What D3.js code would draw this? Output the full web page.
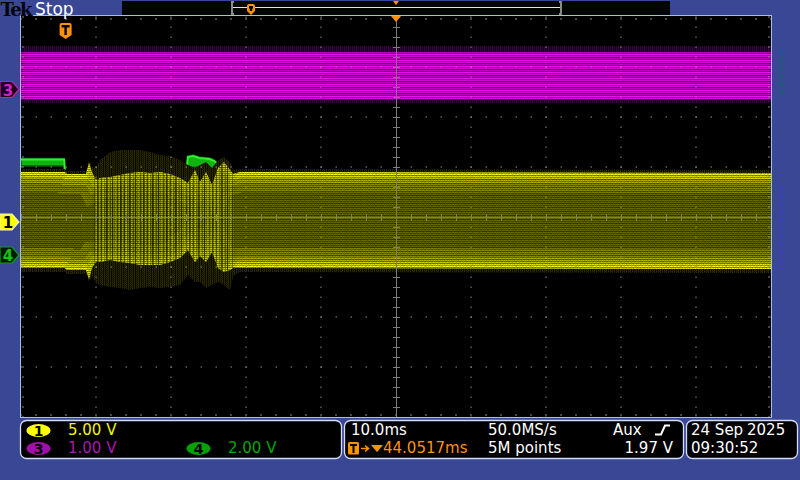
<!DOCTYPE html>
<html><head><meta charset="utf-8">
<script src="https://cdn.jsdelivr.net/npm/d3@7"></script>
<style>html,body{margin:0;padding:0;background:#3a4794;overflow:hidden}svg{display:block}</style>
</head><body>
<script>
// ---------------- DATA ----------------
const timePerDiv = 10;            // ms / div
const horizPosition = 44.0517;    // ms at screen centre (trigger at 0 ms)
const ch1VoltsPerDiv = 5, ch3VoltsPerDiv = 1, ch4VoltsPerDiv = 2;
const ch1Offset = -0.1, ch3Offset = 2.55, ch4Offset = -0.76; // divisions

// Channel 1 (yellow) envelope, ms / V
const ch1Time     = [-5.95, -0.1, 0.18, 2.72, 3.12, 3.52, 4.05, 4.59, 5.92, 7.25, 8.59, 9.92, 11.25, 12.59, 13.92, 15.25, 16.32, 17.25, 17.92, 18.72, 19.52, 20.32, 21.12, 21.92, 22.32, 23.25, 94.05];
const ch1Max      = [5.0, 5.0, 4.8, 4.8, 5.9, 5.0, 4.2, 4.4, 4.5, 4.7, 4.9, 5.0, 4.9, 5.0, 4.8, 4.4, 3.9, 5.2, 4.0, 5.0, 3.7, 5.4, 6.0, 5.2, 4.8, 5.0, 4.9];
const ch1Min      = [-4.6, -4.6, -4.8, -4.8, -5.7, -4.6, -4.0, -4.0, -3.8, -4.0, -4.1, -4.3, -4.3, -4.3, -4.0, -3.6, -2.8, -4.0, -3.4, -4.0, -3.0, -4.6, -5.0, -4.8, -4.6, -4.6, -4.7];
const ch1PeakMax  = [5.3, 5.3, 5.1, 5.1, 6.2, 5.5, 5.4, 6.2, 7.0, 7.2, 7.2, 7.2, 7.0, 6.7, 6.6, 6.2, 5.7, 5.4, 5.7, 6.0, 5.4, 6.2, 6.5, 6.0, 5.2, 5.3, 5.2];
const ch1PeakMin  = [-5.0, -5.0, -5.2, -5.2, -6.0, -5.4, -6.1, -6.3, -6.5, -6.6, -6.8, -6.6, -6.5, -6.6, -6.5, -6.3, -5.3, -6.0, -6.0, -6.6, -6.3, -6.0, -6.3, -6.8, -5.4, -5.0, -5.1];
const ch1BurstStart = 3.0, ch1BurstEnd = 23.0; // ms, disturbed section

// Channel 3 (magenta) envelope
const ch3Time    = [-5.95, 94.05];
const ch3Max     = [0.75, 0.75];
const ch3Min     = [-0.21, -0.21];
const ch3PeakMax = [0.87, 0.87];
const ch3PeakMin = [-0.27, -0.27];

// Channel 4 (green) envelope
const ch4Time = [-5.95, -0.2, 0.0, 16.0, 16.3, 17.0, 17.8, 18.5, 19.2, 19.8, 20.2, 20.5, 94.05];
const ch4Max  = [3.86, 3.86, 3.0, 3.0, 3.96, 4.0, 3.92, 3.9, 3.88, 3.8, 3.7, 3.0, 3.0];
const ch4Min  = [3.56, 3.56, 2.8, 2.8, 3.55, 3.5, 3.52, 3.5, 3.45, 3.4, 3.4, 2.8, 2.8];

// Readout texts
const ch1Scale = "5.00 V", ch3Scale = "1.00 V", ch4Scale = "2.00 V";
const timebase = "10.0ms", sampleRate = "50.0MS/s", recordLen = "5M points";
const trigSource = "Aux", trigLevel = "1.97 V", horizDelay = "44.0517ms";
const dateText = "24 Sep", yearText = "2025", timeText = "09:30:52";

// ---------------- DRAW ----------------
const L = 21, R = 771, T = 17, B = 417;
const svg = d3.select("body").append("svg").attr("width", 800).attr("height", 480);
const defs = svg.append("defs");
svg.append("rect").attr("width", 800).attr("height", 480).attr("fill", "#3a4794");

const x = d3.scaleLinear()
  .domain([horizPosition - 5 * timePerDiv, horizPosition + 5 * timePerDiv]).range([L, R]);
const div = d3.scaleLinear().domain([-4, 4]).range([B, T]);
const y1 = v => div(v / ch1VoltsPerDiv + ch1Offset);
const y3 = v => div(v / ch3VoltsPerDiv + ch3Offset);
const y4 = v => div(v / ch4VoltsPerDiv + ch4Offset);

// patterns
function gridPattern(id, cells) {
  const h = cells.length, w = cells[0].length;
  const p = defs.append("pattern").attr("id", id).attr("patternUnits", "userSpaceOnUse").attr("width", w).attr("height", h);
  cells.forEach((row, i) => row.forEach((c, j) => p.append("rect").attr("x", j).attr("y", i).attr("width", 1).attr("height", 1).attr("fill", c)));
}
gridPattern("magBody", [["#e414e6"], ["#9c00a0"], ["#cc0cd0"], ["#5c005e"], ["#b804bc"], ["#780078"]]);
const a = o => `rgba(0,0,0,${o})`;
gridPattern("yShade", [
  [a(0), a(0.12), a(0), a(0.2), a(0.05), a(0), a(0.15)],
  [a(0.4), a(0.3), a(0.45), a(0.35), a(0.4), a(0.5), a(0.3)],
  [a(0.05), a(0.2), a(0.05), a(0), a(0.15), a(0.1), a(0)],
  [a(0.55), a(0.45), a(0.5), a(0.6), a(0.4), a(0.5), a(0.55)]
]);
const yy = o => `rgba(255,255,40,${o})`;
gridPattern("vStreak", [[yy(0.45), yy(0.3), a(0.3), yy(0.2), yy(0.5), a(0.5), a(0.2), yy(0.55), yy(0.15), a(0.4), yy(0.35), yy(0.6), a(0.1), yy(0.25), a(0.45), a(0.3), yy(0.5), yy(0.2), a(0.15), yy(0.4), a(0.55), yy(0.3), yy(0.1)]]);
gridPattern("yFringe", [["#2e2e00", "#0e0e00", "#242400", "#030300", "#2a2a00", "#080800"], ["#202000", "#060600", "#2e2e00", "#0e0e00", "#1a1a00", "#242400"]]);
gridPattern("mFringe", [["#3c0044", "#140018", "#300038", "#0a000a"]]);

defs.append("clipPath").attr("id", "plotClip").append("rect")
  .attr("x", L).attr("y", T - 1).attr("width", R - L).attr("height", B - T + 1);
const eg = defs.append("linearGradient").attr("id", "edgeFade").attr("gradientUnits", "userSpaceOnUse")
  .attr("x1", L).attr("x2", R).attr("y1", 0).attr("y2", 0);
[[ch1BurstStart - 0.3, 1], [ch1BurstStart + 1.2, 0.55], [ch1BurstEnd - 1.5, 0.55], [ch1BurstEnd, 1]].forEach(([t, o]) =>
  eg.append("stop").attr("offset", (x(t) - L) / (R - L)).attr("stop-color", "#fff").attr("stop-opacity", o));
defs.append("mask").attr("id", "edgeMask").append("rect").attr("x", L).attr("y", T).attr("width", R - L).attr("height", B - T).attr("fill", "url(#edgeFade)");

svg.append("rect").attr("x", L).attr("y", T - 1).attr("width", R - L).attr("height", B - T + 2).attr("fill", "#000");
const plot = svg.append("g").attr("clip-path", "url(#plotClip)");

function envArea(time, hi, lo, ys) {
  return d3.area().x(i => x(time[i])).y0(i => ys(lo[i])).y1(i => ys(hi[i]))(d3.range(time.length));
}
function envLine(time, v, ys) {
  return d3.line().x(i => x(time[i])).y(i => ys(v[i]))(d3.range(time.length));
}

// Channel 3
plot.append("path").attr("d", envArea(ch3Time, ch3PeakMax, ch3PeakMin, y3)).attr("fill", "url(#mFringe)");
plot.append("path").attr("d", envArea(ch3Time, ch3Max, ch3Min, y3)).attr("fill", "url(#magBody)");

// Channel 4
plot.append("path").attr("d", envArea(ch4Time, ch4Max, ch4Min, y4)).attr("fill", "#0fb40f")
  .attr("stroke", "#0a5a0a").attr("stroke-width", 1.5);
plot.append("path").attr("d", envLine(ch4Time, ch4Max, y4)).attr("fill", "none")
  .attr("stroke", "#30f030").attr("stroke-width", 2).attr("transform", "translate(0,1)");

// Channel 1
plot.append("path").attr("d", envArea(ch1Time, ch1PeakMax, ch1PeakMin, y1)).attr("fill", "url(#yFringe)");
const bodyD = envArea(ch1Time, ch1Max, ch1Min, y1);
defs.append("clipPath").attr("id", "ch1Clip").append("path").attr("d", bodyD);
const body = plot.append("g").attr("clip-path", "url(#ch1Clip)");
body.append("path").attr("d", bodyD).attr("fill", "#6c6c08");
const edges = body.append("g").attr("mask", "url(#edgeMask)");
[[40, "#8e8e08"], [22, "#b4b404"], [12, "#e6e600"], [6, "#ffff20"]].forEach(([w, c]) => {
  edges.append("path").attr("d", envLine(ch1Time, ch1Max, y1)).attr("fill", "none").attr("stroke", c).attr("stroke-width", w);
  edges.append("path").attr("d", envLine(ch1Time, ch1Min, y1)).attr("fill", "none").attr("stroke", c).attr("stroke-width", w);
});
body.append("rect").attr("x", x(ch1BurstStart + 0.8)).attr("y", T).attr("width", x(ch1BurstEnd - 0.6) - x(ch1BurstStart + 0.8))
  .attr("height", B - T).attr("fill", "url(#vStreak)");
body.append("path").attr("d", bodyD).attr("fill", "url(#yShade)");

// ---------------- GRID ----------------
const grid = svg.append("g").attr("fill", "#8c8c84");
const xDivs = d3.range(0, 11).map(k => L + k * (R - L) / 10);
const yDivs = d3.range(-4, 5).map(d => div(d));
xDivs.slice(1, 10).forEach((gx, k) => {
  if (k === 4) return;
  d3.range(0, 41).forEach(j => grid.append("rect").attr("x", Math.round(gx) - 0.5).attr("y", T + j * 10 - 0.5).attr("width", 1).attr("height", 1.5));
});
yDivs.slice(1, 8).forEach((gy, k) => {
  if (k === 3) return;
  d3.range(0, 51).forEach(j => grid.append("rect").attr("x", L + j * 15 - 0.5).attr("y", Math.round(gy) - 0.5).attr("width", 1.5).attr("height", 1));
});
d3.range(0, 41).forEach(j => {
  const gy = T + j * 10;
  grid.append("rect").attr("x", L + 1).attr("y", gy - 0.5).attr("width", 2).attr("height", 1);
  grid.append("rect").attr("x", R - 3).attr("y", gy - 0.5).attr("width", 2).attr("height", 1);
});
d3.range(0, 51).forEach(j => {
  const gx = L + j * 15;
  grid.append("rect").attr("x", gx - 0.5).attr("y", T + 1).attr("width", 1).attr("height", 2);
  grid.append("rect").attr("x", gx - 0.5).attr("y", B - 3).attr("width", 1).attr("height", 2);
});
const cx = x(horizPosition), cy = div(0);
const cross = svg.append("g").attr("stroke", "#7c7c78").attr("stroke-width", 1).attr("clip-path", "url(#plotClip)");
cross.append("line").attr("x1", L).attr("x2", R).attr("y1", cy + 0.5).attr("y2", cy + 0.5);
cross.append("line").attr("x1", Math.round(cx) + 0.5).attr("x2", Math.round(cx) + 0.5).attr("y1", T).attr("y2", B);
d3.range(0, 51).forEach(j => cross.append("line").attr("x1", L + j * 15 + 0.5).attr("x2", L + j * 15 + 0.5).attr("y1", cy - 3).attr("y2", cy + 4));
d3.range(0, 41).forEach(j => cross.append("line").attr("x1", cx - 3).attr("x2", cx + 4).attr("y1", T + j * 10 + 0.5).attr("y2", T + j * 10 + 0.5));

svg.append("rect").attr("x", L - 0.5).attr("y", T - 1.5).attr("width", R - L + 1).attr("height", B - T + 2)
  .attr("fill", "none").attr("stroke", "#a6bdf2").attr("stroke-width", 1);

// ---------------- MARKERS ----------------
const orange = "#ff9200";
function tShield(g, cxm, top, w, h) {
  g.append("path").attr("d", `M${cxm - w / 2},${top + 2} Q${cxm - w / 2},${top} ${cxm - w / 2 + 2},${top} H${cxm + w / 2 - 2} Q${cxm + w / 2},${top} ${cxm + w / 2},${top + 2} V${top + h - 4} L${cxm},${top + h} L${cxm - w / 2},${top + h - 4} Z`).attr("fill", orange);
  g.append("path").attr("d", `M${cxm - w / 2 + 2},${top + 2} H${cxm + w / 2 - 2} V${top + 4.5} H${cxm + 1.2} V${top + h - 4} H${cxm - 1.2} V${top + 4.5} H${cxm - w / 2 + 2} Z`).attr("fill", "#000");
}
tShield(svg.append("g"), x(0), 23, 12, 16);
svg.append("path").attr("d", `M${cx - 5},${T - 1} L${cx + 5},${T - 1} L${cx},${T + 5} Z`).attr("fill", orange);

function chanMarker(cyM, fill, stroke, txtColor, label) {
  const g = svg.append("g");
  g.append("path").attr("d", `M0,${cyM - 8} H12 L19,${cyM} L12,${cyM + 8} H0 Z`).attr("fill", fill).attr("stroke", stroke).attr("stroke-width", 1.2);
  g.append("text").attr("x", 8).attr("y", cyM + 6).attr("text-anchor", "middle").attr("font-family", "DejaVu Sans")
    .attr("font-size", 15).attr("font-weight", "bold").attr("fill", txtColor).text(label);
}
chanMarker(div(ch3Offset), "#1a001a", "#c020c0", "#d020d0", "3");
chanMarker(div(ch1Offset), "#ffff00", "#f0f0c0", "#000", "1");
chanMarker(div(ch4Offset), "#001800", "#10a010", "#18c018", "4");

// ---------------- HEADER ----------------
svg.append("text").attr("x", 0.5).attr("y", 15.5).attr("font-family", "DejaVu Serif").attr("font-weight", "bold")
  .attr("font-size", 18).attr("letter-spacing", -1.6).attr("fill", "#06060e").text("Tek");
svg.append("text").attr("x", 35).attr("y", 15).attr("font-family", "DejaVu Sans")
  .attr("font-size", 17).attr("fill", "#fff").text("Stop");
svg.append("rect").attr("x", 122).attr("y", 1).attr("width", 548).attr("height", 14).attr("fill", "#010601");
svg.append("line").attr("x1", 233).attr("x2", 560).attr("y1", 7.5).attr("y2", 7.5).attr("stroke", "#ffff30").attr("stroke-width", 1.2);
svg.append("path").attr("d", "M234,2 H232 V14 H234").attr("fill", "none").attr("stroke", "#8a8a8a").attr("stroke-width", 2);
svg.append("path").attr("d", "M559,2 H561 V14 H559").attr("fill", "none").attr("stroke", "#8a8a8a").attr("stroke-width", 2);
tShield(svg.append("g"), 251, 4, 8, 11);
svg.append("path").attr("d", `M${cx - 3},1 L${cx + 3},1 L${cx},5 Z`).attr("fill", orange);

// ---------------- READOUT PANELS ----------------
function panel(x0, x1) {
  svg.append("rect").attr("x", x0 + 0.5).attr("y", 420.5).attr("width", x1 - x0).attr("height", 38).attr("rx", 6)
    .attr("fill", "#000").attr("stroke", "#d4dcf4").attr("stroke-width", 1.3);
}
panel(20, 341); panel(344, 683); panel(686, 797);
const txt = (tx, ty, s, c, anchor) => svg.append("text").attr("x", tx).attr("y", ty).attr("font-family", "DejaVu Sans")
  .attr("font-size", 15).attr("fill", c).attr("text-anchor", anchor || "start").text(s);
function chanBadge(bx, by, fill, label) {
  svg.append("ellipse").attr("cx", bx).attr("cy", by).attr("rx", 12).attr("ry", 6.5).attr("fill", fill);
  svg.append("text").attr("x", bx).attr("y", by + 5.5).attr("text-anchor", "middle").attr("font-family", "DejaVu Sans")
    .attr("font-weight", "bold").attr("font-size", 14).attr("fill", "#000").text(label);
}
chanBadge(38.5, 430.5, "#ffff00", "1");
chanBadge(38.5, 448.5, "#a010a8", "3");
chanBadge(198.5, 448.5, "#00a000", "4");
txt(68, 435, ch1Scale, "#f4f400");
txt(68, 453, ch3Scale, "#a818b0");
txt(228, 453, ch4Scale, "#00a800");

txt(351, 435, timebase, "#fff");
txt(488, 435, sampleRate, "#fff");
txt(613, 435, trigSource, "#fff");
svg.append("path").attr("d", "M655,434.5 H661 L665,425.5 H670").attr("fill", "none").attr("stroke", "#fff").attr("stroke-width", 2);
svg.append("rect").attr("x", 348).attr("y", 442).attr("width", 11).attr("height", 12.5).attr("rx", 1.5).attr("fill", orange);
svg.append("path").attr("d", "M350,444 H357 V446 H354.5 V453 H352.5 V446 H350 Z").attr("fill", "#000");
svg.append("path").attr("d", "M361,448.5 H368 M365,445.5 L368.5,448.5 L365,451.5").attr("fill", "none").attr("stroke", orange).attr("stroke-width", 1.6);
svg.append("path").attr("d", "M371,445 H383 L377,452 Z").attr("fill", orange);
txt(383, 453, horizDelay, orange);
txt(488, 453, recordLen, "#fff");
txt(673, 453, trigLevel, "#fff", "end");

txt(691, 435, dateText, "#fff");
txt(747, 435, yearText, "#fff");
txt(691, 453, timeText, "#fff");
</script>
</body></html>
